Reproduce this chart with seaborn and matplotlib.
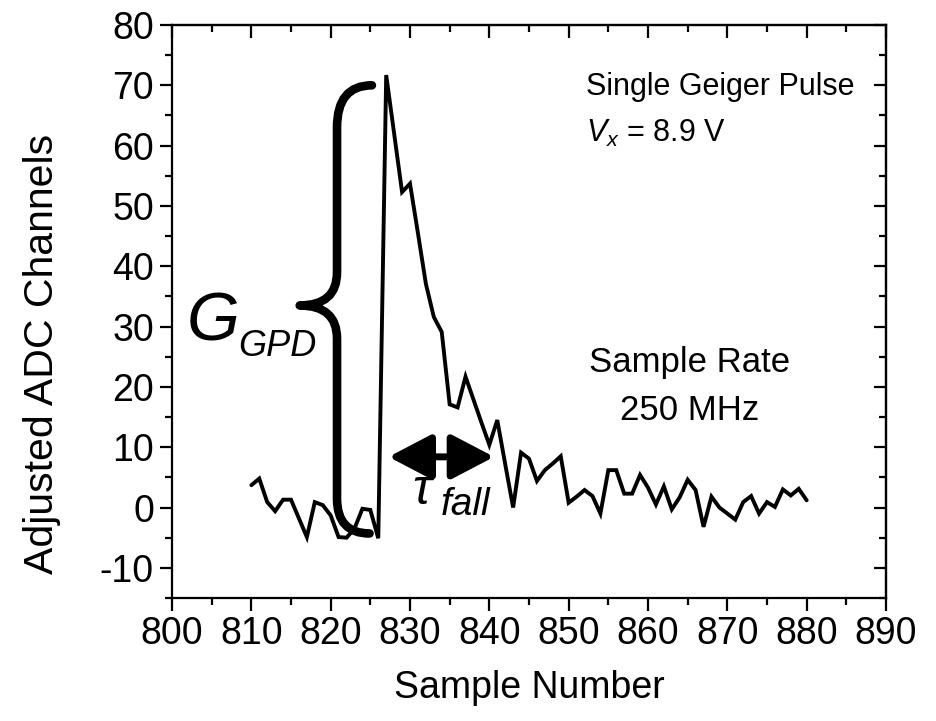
import numpy as np
import pandas as pd
import matplotlib
matplotlib.use("Agg")
import matplotlib.pyplot as plt
import seaborn as sns
from matplotlib.path import Path
from matplotlib.patches import PathPatch
from matplotlib.ticker import MultipleLocator

# ---- data ----
sample_start = 810
adc_values = [3.7, 4.8, 0.9, -0.6, 1.3, 1.3, -1.8, -4.9, 0.9, 0.4,
              -1.3, -4.9, -5.0, -3.5, -0.2, -0.4, -5.1, 71.7, 62.0, 52.3,
              53.7, 45.5, 37.1, 31.6, 29.1, 17.1, 16.6, 21.7, 17.9, 14.1,
              10.4, 14.5, 7.2, 0.0, 9.1, 8.1, 4.4, 6.2, 7.3, 8.5,
              0.8, 1.8, 2.9, 1.9, -1.0, 6.2, 6.2, 2.3, 2.3, 5.4,
              3.3, 0.5, 3.5, -0.3, 1.7, 4.6, 2.9, -3.2, 1.8, 0.0,
              -1.0, -2.0, 0.9, 1.9, -1.0, 0.9, 0.1, 3.0, 2.0, 3.1,
              1.2]
sample_numbers = list(range(sample_start, sample_start + len(adc_values)))
x_ticks = list(range(800, 891, 10))
y_ticks = list(range(-10, 81, 10))

df = pd.DataFrame({"Sample Number": sample_numbers, "ADC": adc_values})

sns.set_style("ticks")
plt.rcParams["font.family"] = ["Liberation Sans", "DejaVu Sans"]
plt.rcParams["mathtext.fontset"] = "custom"
plt.rcParams["mathtext.rm"] = "Liberation Sans"
plt.rcParams["mathtext.it"] = "Liberation Sans:italic"
plt.rcParams["mathtext.bf"] = "Liberation Sans:bold"
plt.rcParams["axes.unicode_minus"] = False
plt.rcParams["text.color"] = "black"
plt.rcParams["axes.labelcolor"] = "black"
plt.rcParams["xtick.color"] = "black"
plt.rcParams["ytick.color"] = "black"

fig = plt.figure(figsize=(9.36, 7.21), dpi=100)
ax = fig.add_axes([172/936, 1-598/721, (886-172)/936, (598-25)/721])

sns.lineplot(data=df, x="Sample Number", y="ADC", ax=ax, color="black",
             lw=2.8, solid_joinstyle="miter")

ax.set_xlim(800, 890)
ax.set_ylim(-15, 80)
ax.set_xticks(x_ticks)
ax.set_yticks(y_ticks)
ax.xaxis.set_minor_locator(MultipleLocator(5))
ax.yaxis.set_minor_locator(MultipleLocator(5))
ax.tick_params(which="major", direction="out", length=9, width=1.6,
               labelsize=27, colors="black", pad=4)
ax.tick_params(which="minor", direction="out", length=5, width=1.6)
for s in ax.spines.values():
    s.set_linewidth(1.6)
    s.set_color("black")

# mirrored inward ticks on top/right
sec_x = ax.secondary_xaxis("top")
sec_x.set_xticks(x_ticks)
sec_x.xaxis.set_minor_locator(MultipleLocator(5))
sec_x.tick_params(which="major", direction="in", length=9, width=1.6, labeltop=False)
sec_x.tick_params(which="minor", direction="in", length=5, width=1.6)
sec_x.spines["top"].set_linewidth(1.6)
sec_y = ax.secondary_yaxis("right")
sec_y.set_yticks(y_ticks)
sec_y.yaxis.set_minor_locator(MultipleLocator(5))
sec_y.tick_params(which="major", direction="in", length=9, width=1.6, labelright=False)
sec_y.tick_params(which="minor", direction="in", length=5, width=1.6)
sec_y.spines["right"].set_linewidth(1.6)

ax.set_xlabel("Sample Number", fontsize=27, va="center")
ax.xaxis.set_label_coords(0.5, (598-688)/573, transform=ax.transAxes)
ax.set_ylabel("Adjusted ADC Channels", fontsize=29.5, va="center")
ax.yaxis.set_label_coords((42-172)/714, (598-354)/573, transform=ax.transAxes)

# curly brace
xv, xtip, xmid = 820.8, 825.2, 816.1
verts = [(xtip, 70.0), (xv, 70.0), (xv, 63.0),
         (xv, 39.0),
         (xv, 33.5), (xmid, 33.5),
         (xv, 33.5), (xv, 28.0),
         (xv, 1.5),
         (xv, -4.3), (824.9, -4.3)]
codes = [Path.MOVETO, Path.CURVE3, Path.CURVE3,
         Path.LINETO,
         Path.CURVE3, Path.CURVE3,
         Path.CURVE3, Path.CURVE3,
         Path.LINETO,
         Path.CURVE3, Path.CURVE3]
ax.add_patch(PathPatch(Path(verts, codes), fill=False, lw=6.2, color="black",
                       capstyle="round", joinstyle="round"))

# double arrow
ax.annotate("", xy=(840.6, 8.4), xytext=(827.3, 8.4),
            arrowprops=dict(arrowstyle="<|-|>,head_length=1.05,head_width=0.55",
                            lw=5, color="black", shrinkA=0, shrinkB=0,
                            mutation_scale=25))

# G_GPD
ax.text(801.8, 27.7, "G", fontsize=49, style="italic", ha="left", va="baseline")
ax.text(808.4, 25.2, "GPD", fontsize=26, style="italic", ha="left", va="baseline")
# tau_fall
ax.text(830.3, 0.6, r"$\tau$", fontsize=36, ha="left", va="baseline")
ax.text(833.9, -1.2, "fall", fontsize=28, style="italic", ha="left", va="baseline")

ax.text(852.2, 68.4, "Single Geiger Pulse", fontsize=22, ha="left", va="baseline")
ax.text(852.2, 60.6, r"$V_x$ = 8.9 V", fontsize=22, ha="left", va="baseline")
ax.text(865.3, 22.4, "Sample Rate", fontsize=25, ha="center", va="baseline")
ax.text(865.3, 14.5, "250 MHz", fontsize=25, ha="center", va="baseline")

fig.savefig("out.png", dpi=100, facecolor="white")
